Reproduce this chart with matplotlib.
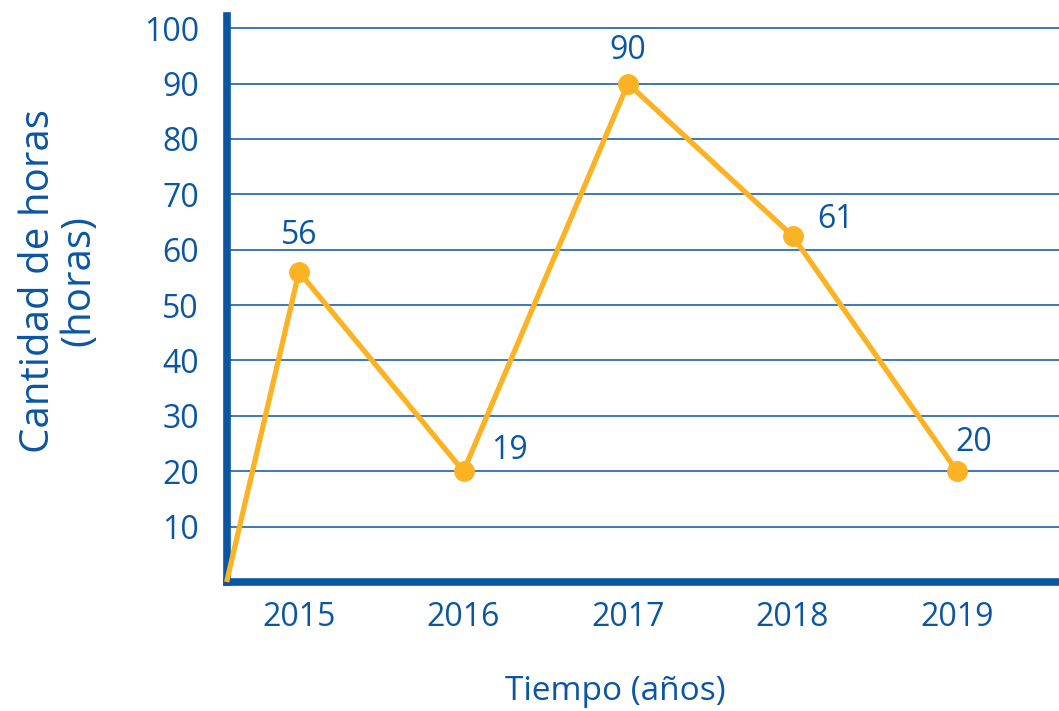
import matplotlib
matplotlib.use("Agg")
import matplotlib.pyplot as plt

# datos
anos = [2015, 2016, 2017, 2018, 2019]
horas = [56, 20, 90, 62.5, 20]          # posición de cada punto en el gráfico
etiquetas = ["56", "19", "90", "61", "20"]  # lo que dice cada rótulo
inicio_x, inicio_y = 2014.56, 0         # la línea arranca en el origen
ticks_y = [10, 20, 30, 40, 50, 60, 70, 80, 90, 100]

AZUL = "#0a56a3"
AZUL_LINEA = "#2e6cb3"
NARANJA = "#fbb323"

plt.rcParams["font.family"] = ["Open Sans", "DejaVu Sans"]

fig = plt.figure(figsize=(10.59, 7.11), dpi=100)
ax = fig.add_axes([0.214, 0.1814, 0.786, 0.7961])

ax.set_xlim(2014.56, 2019.62)
ax.set_ylim(0, 102.2)

ax.set_yticks(ticks_y)
ax.set_yticklabels([str(t) for t in ticks_y])
ax.set_xticks(anos)
ax.set_xticklabels([str(a) for a in anos])
ax.tick_params(axis="both", length=0, labelsize=23, labelcolor=AZUL)
ax.tick_params(axis="y", pad=20)
ax.tick_params(axis="x", pad=14)
ax.yaxis.grid(True, color=AZUL_LINEA, linewidth=1.3)
ax.set_axisbelow(True)

for lado in ["top", "right"]:
    ax.spines[lado].set_visible(False)
for lado in ["left", "bottom"]:
    ax.spines[lado].set_color(AZUL)
    ax.spines[lado].set_linewidth(5.5)
    ax.spines[lado].set_zorder(1)

xs = [inicio_x] + anos
ys = [inicio_y] + horas
ax.plot(xs, ys, color=NARANJA, linewidth=3.8, zorder=3, clip_on=False,
        solid_capstyle="butt")
ax.plot(anos, horas, "o", color=NARANJA, markersize=14, zorder=4, clip_on=False)

# desplazamiento de cada rótulo (en puntos) respecto a su punto
desplaz = [(0, 14), (33, 3), (0, 12), (31, 0), (12, 9)]
for a, h, txt, (dx, dy) in zip(anos, horas, etiquetas, desplaz):
    ax.annotate(txt, (a, h), xytext=(dx, dy), textcoords="offset points",
                ha="center", va="bottom", fontsize=23, color=AZUL)

ax.set_xlabel("Tiempo (años)", fontsize=24, color=AZUL)
ax.xaxis.set_label_coords(0.467, -0.165)
fig.text(0.056, 0.605, "Cantidad de horas\n(horas)", rotation=90,
         ha="center", va="center", fontsize=29, color=AZUL, linespacing=1.0,
         multialignment="center")

fig.savefig("out.png", dpi=100)
